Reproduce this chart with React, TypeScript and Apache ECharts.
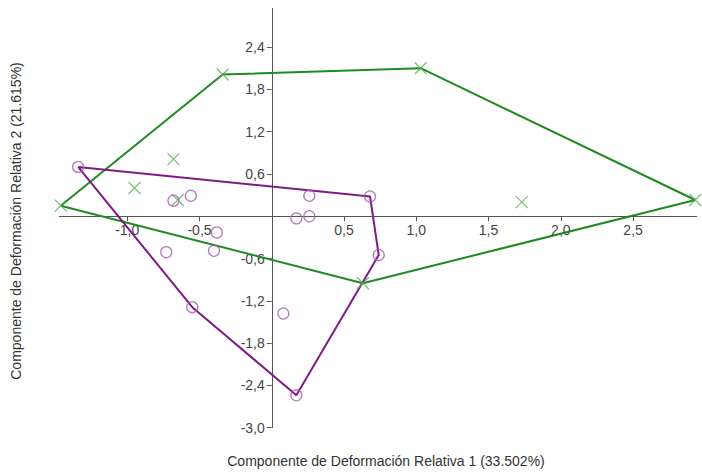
import React, { useEffect, useRef } from "react";
import * as echarts from "echarts";

const xTickValues = [-1.0, -0.5, 0.5, 1.0, 1.5, 2.0, 2.5];
const yTickValues = [-3.0, -2.4, -1.8, -1.2, -0.6, 0.6, 1.2, 1.8, 2.4];

const greenPoints: number[][] = [
  [-1.46, 0.15],
  [-0.34, 2.01],
  [1.03, 2.1],
  [2.93, 0.23],
  [0.63, -0.95],
  [-0.68, 0.81],
  [-0.95, 0.4],
  [-0.65, 0.23],
  [1.73, 0.2],
];
const greenHullOrder = [0, 1, 2, 3, 4, 0];

const purplePoints: number[][] = [
  [-1.34, 0.7],
  [0.68, 0.28],
  [0.74, -0.55],
  [0.17, -2.54],
  [-0.55, -1.29],
  [-0.68, 0.22],
  [-0.56, 0.29],
  [0.26, 0.29],
  [0.17, -0.03],
  [0.26, 0.0],
  [-0.38, -0.23],
  [-0.73, -0.51],
  [-0.4, -0.49],
  [0.08, -1.38],
];
const purpleHullOrder = [0, 1, 2, 3, 4, 0];

const xAxisName = "Componente de Deformación Relativa 1 (33.502%)";
const yAxisName = "Componente de Deformación Relativa 2 (21.615%)";

const X_MIN = -1.47;
const X_MAX = 2.94;
const Y_MIN = -3.0;
const Y_MAX = 2.95;

const FONT = "Liberation Sans, Arial, sans-serif";
const fmt = (v: number) => v.toFixed(1).replace(".", ",");

export default function App() {
  const ref = useRef<HTMLDivElement>(null);
  useEffect(() => {
    if (!ref.current) return;
    const chart = echarts.init(ref.current, null, { renderer: "svg" });
    const W = 702;
    const H = 472;
    const grid = { left: 59.3, right: 5.3, top: 8.3, bottom: 44.3 };
    const gw = W - grid.left - grid.right;
    const gh = H - grid.top - grid.bottom;
    // move axes so they cross at the origin
    const xAxisOffset = -((0 - Y_MIN) / (Y_MAX - Y_MIN)) * gh;
    const yAxisOffset = -((0 - X_MIN) / (X_MAX - X_MIN)) * gw;
    const axisCommon = {
      type: "value" as const,
      splitLine: { show: false },
      axisLine: { show: true, onZero: false, lineStyle: { color: "#555", width: 1 } },
    };
    chart.setOption({
      animation: false,
      backgroundColor: "#fff",
      grid,
      xAxis: {
        ...axisCommon,
        position: "bottom",
        offset: xAxisOffset,
        min: X_MIN,
        max: X_MAX,
        axisTick: { show: true, customValues: xTickValues, length: 5, lineStyle: { color: "#555" } },
        axisLabel: {
          customValues: xTickValues,
          formatter: (v: number) => fmt(v),
          color: "#444",
          fontSize: 14,
          fontFamily: FONT,
          margin: 7,
        },
      },
      yAxis: {
        ...axisCommon,
        position: "left",
        offset: yAxisOffset,
        min: Y_MIN,
        max: Y_MAX,
        axisTick: { show: true, customValues: yTickValues, length: 5, lineStyle: { color: "#555" } },
        axisLabel: {
          customValues: yTickValues,
          formatter: (v: number) => fmt(v),
          color: "#444",
          fontSize: 14,
          fontFamily: FONT,
          margin: 7,
        },
      },
      graphic: [
        {
          type: "text",
          x: 386,
          y: 461,
          style: {
            text: xAxisName,
            align: "center",
            verticalAlign: "middle",
            font: `14px ${FONT}`,
            fill: "#333",
          },
        },
        {
          type: "text",
          x: 16,
          y: 221,
          rotation: Math.PI / 2,
          style: {
            text: yAxisName,
            align: "center",
            verticalAlign: "middle",
            font: `14px ${FONT}`,
            fill: "#333",
          },
        },
      ],
      series: [
        {
          type: "line",
          data: greenHullOrder.map((i) => greenPoints[i]),
          showSymbol: false,
          symbol: "none",
          silent: true,
          lineStyle: { color: "#1f8a1f", width: 2 },
          z: 2,
        },
        {
          type: "line",
          data: purpleHullOrder.map((i) => purplePoints[i]),
          showSymbol: false,
          symbol: "none",
          silent: true,
          lineStyle: { color: "#7f1a86", width: 2 },
          z: 2,
        },
        {
          type: "scatter",
          data: greenPoints,
          symbol: "path://M0,0L10,10M10,0L0,10",
          symbolSize: 12,
          itemStyle: { color: "transparent", borderColor: "#5fae5f", borderWidth: 1.3 },
          z: 3,
        },
        {
          type: "scatter",
          data: purplePoints,
          symbol: "circle",
          symbolSize: 11,
          itemStyle: { color: "transparent", borderColor: "#a45aab", borderWidth: 1.3 },
          z: 3,
        },
      ],
    });
    return () => chart.dispose();
  }, []);
  return (
    <div
      ref={ref}
      style={{ position: "fixed", left: 0, top: 0, width: 702, height: 472 }}
    />
  );
}
